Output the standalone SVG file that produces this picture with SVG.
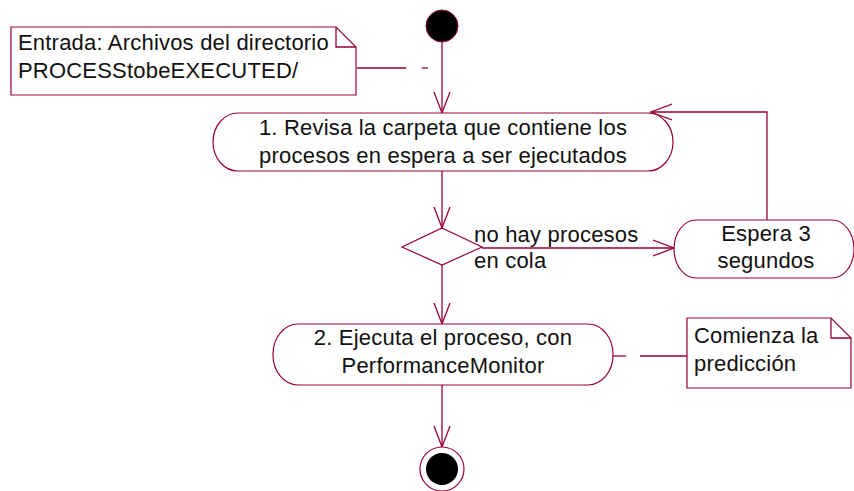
<svg xmlns="http://www.w3.org/2000/svg" width="854" height="491" viewBox="0 0 854 491">
<style>
.shape{fill:#fff;stroke:#990033;stroke-width:1.2}
.line{fill:none;stroke:#990033;stroke-width:1.3}
.txt{font-family:"Liberation Sans",Arial,sans-serif;font-size:22px;letter-spacing:0.2px;fill:#111}
.c{text-anchor:middle}
</style>
<defs>
<marker id="arr" markerUnits="userSpaceOnUse" markerWidth="24" markerHeight="20" refX="21" refY="9" orient="auto">
<path d="M0,1 L21,9 L0,17" fill="none" stroke="#990033" stroke-width="1.3"/>
</marker>
</defs>
<rect width="854" height="491" fill="#fff"/>

<g id="connectors">
<line class="line" x1="442" y1="42" x2="442" y2="113" marker-end="url(#arr)"/>
<line class="line" x1="442" y1="171" x2="442" y2="228" marker-end="url(#arr)"/>
<line class="line" x1="482" y1="248" x2="674" y2="248" marker-end="url(#arr)"/>
<polyline class="line" points="767,220 767,112 651,112" marker-end="url(#arr)"/>
<line class="line" x1="442" y1="265" x2="442" y2="324" marker-end="url(#arr)"/>
<line class="line" x1="442" y1="385" x2="442" y2="447" marker-end="url(#arr)"/>
<line class="line" x1="357" y1="68" x2="406" y2="68"/>
<line class="line" x1="422" y1="68" x2="428" y2="68"/>
<line class="line" x1="596" y1="356" x2="626" y2="356"/>
<line class="line" x1="640" y1="356" x2="687" y2="356"/>
<text class="txt" x="474" y="242">no hay procesos</text>
<text class="txt" x="474" y="268">en cola</text>
</g>

<g id="start">
<circle cx="442" cy="26" r="16" fill="#000" stroke="#990033" stroke-width="1"/>
</g>

<g id="note1">
<path class="shape" d="M11,27 H336 L356,47 V95 H11 Z"/>
<path class="line" d="M336,27 V47 H356" stroke-width="1.1"/>
<text class="txt" x="18" y="50">Entrada: Archivos del directorio</text>
<text class="txt" x="18" y="78">PROCESStobeEXECUTED/</text>
</g>

<g id="activity1">
<rect class="shape" x="213" y="113" width="460" height="58" rx="25" ry="29"/>
<text class="txt c" x="443" y="135">1. Revisa la carpeta que contiene los</text>
<text class="txt c" x="443" y="163">procesos en espera a ser ejecutados</text>
</g>

<g id="decision">
<polygon class="shape" points="442,228 482,247 442,265 402,247"/>
</g>

<g id="espera">
<rect class="shape" x="674" y="220" width="180" height="58" rx="22" ry="29"/>
<text class="txt c" x="766" y="241">Espera 3</text>
<text class="txt c" x="766" y="268">segundos</text>
</g>

<g id="activity2">
<rect class="shape" x="273" y="324" width="340" height="61" rx="25" ry="30"/>
<text class="txt c" x="443" y="345">2. Ejecuta el proceso, con</text>
<text class="txt c" x="443" y="373">PerformanceMonitor</text>
</g>

<g id="note2">
<path class="shape" d="M687,318 H831 L851,338 V388 H687 Z"/>
<path class="line" d="M831,318 V338 H851" stroke-width="1.1"/>
<text class="txt" x="694" y="343">Comienza la</text>
<text class="txt" x="694" y="371">predicción</text>
</g>

<g id="end">
<circle cx="442" cy="469" r="22" fill="#fff" stroke="#990033" stroke-width="1.2"/>
<circle cx="442" cy="469" r="16" fill="#000"/>
</g>
</svg>
